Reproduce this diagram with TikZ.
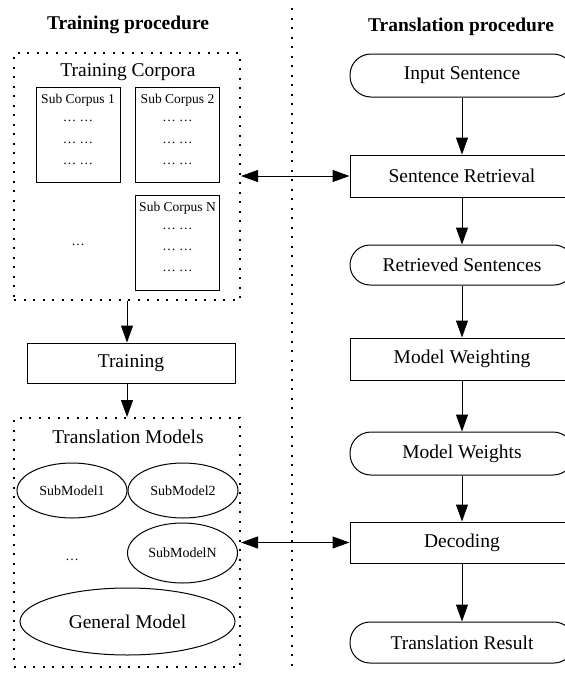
\documentclass[tikz,border=0pt]{standalone}
\usepackage{fontspec}
\setmainfont{Liberation Serif}
\usetikzlibrary{arrows.meta,shapes.geometric}
\tikzset{
  big/.style={font=\fontsize{19.5}{22}\selectfont},
  small/.style={font=\fontsize{13.5}{15}\selectfont},
  dotbox/.style={draw, line width=2pt, dash pattern=on 2pt off 7.5pt, inner sep=0pt},
  stadium/.style={draw, line width=1pt, rounded corners=21pt, minimum width=224pt, minimum height=43pt, inner sep=0pt, big},
  stepbox/.style={draw, line width=1pt, minimum width=224pt, minimum height=42pt, inner sep=0pt, big},
  subbox/.style={draw, line width=1pt, minimum width=84pt, minimum height=95pt, inner sep=0pt},
  ell/.style={draw, line width=1pt, ellipse, inner sep=0pt},
  arr/.style={line width=1pt, -{Triangle[length=17pt,width=12pt]}},
  arrb/.style={line width=1pt, {Triangle[length=17pt,width=12pt]}-{Triangle[length=17pt,width=12pt]}},
  txt/.style={inner sep=0pt}
}
\begin{document}
\begin{tikzpicture}[x=1pt,y=-1pt]
\useasboundingbox (0,0) rectangle (565,675);
\clip (0,0) rectangle (565,675);
\fill[white] (0,0) rectangle (565,675);

% titles
\node[txt,big,font=\fontsize{19.5}{22}\selectfont\bfseries] (t1) at (128,25) {Training procedure};
\node[txt,big,font=\fontsize{19.5}{22}\selectfont\bfseries] (t2) at (461,27) {Translation procedure};

% divider
\coordinate (d1) at (292,8);
\coordinate (d2) at (292,672);
\draw[line width=2pt, dash pattern=on 2pt off 7.5pt] (d1) -- (d2);

% training corpora
\node[dotbox, minimum width=226pt, minimum height=247pt] (corp) at (127,176.5) {};
\node[txt,big] (corpl) at (128,72) {Training Corpora};
\node[subbox] (sc1) at (78,134.5) {};
\node[subbox] (sc2) at (177.5,134.5) {};
\node[subbox] (scn) at (177.5,242.5) {};
\node[txt,small] (sc1l) at (78,100) {Sub Corpus 1};
\node[txt,small] (sc2l) at (177.5,100) {Sub Corpus 2};
\node[txt,small] (scnl) at (177.5,208) {Sub Corpus N};
\foreach \n/\x/\y in {a/78/121,b/78/143,c/78/164,d/177.5/121,e/177.5/143,f/177.5/164,g/177.5/229,h/177.5/250,i/177.5/271}{
  \node[txt,small] (dots\n) at (\x,\y) {\dots\ \dots};
}
\node[txt,small] (corpdots) at (78,245) {\dots};

% training
\node[stepbox, minimum width=208pt, minimum height=40pt] (train) at (131,363) {Training};

% translation models
\node[dotbox, minimum width=226pt, minimum height=249pt] (tm) at (127,542.5) {};
\node[txt,big] (tml) at (128,437) {Translation Models};
\node[ell, minimum width=110pt, minimum height=55pt, font=\fontsize{14}{16}\selectfont] (sm1) at (72,490.5) {SubModel1};
\node[ell, minimum width=110pt, minimum height=55pt, font=\fontsize{14}{16}\selectfont] (sm2) at (183,490.5) {SubModel2};
\node[ell, minimum width=110pt, minimum height=60pt, font=\fontsize{14}{16}\selectfont] (smn) at (182.5,553) {SubModelN};
\node[txt,small] (tmdots) at (72,560) {\dots};
\node[ell, minimum width=215pt, minimum height=67pt, big] (gen) at (127.5,621.5) {General Model};

% translation procedure
\node[stadium] (in) at (462,75.5) {Input Sentence};
\node[stepbox] (ret) at (462,176) {Sentence Retrieval};
\node[stadium, minimum height=40pt, rounded corners=20pt] (rs) at (462,265) {Retrieved Sentences};
\node[stepbox] (mw) at (462,359) {Model Weighting};
\node[stadium] (mws) at (462,453.5) {Model Weights};
\node[stepbox, minimum height=41pt] (dec) at (462,542.5) {Decoding};
\node[stadium, minimum height=41pt, rounded corners=20pt] (tr) at (462,642.5) {Translation Result};

% connectors
\draw[arr] (in.south) -- (ret.north);
\draw[arr] (ret.south) -- (rs.north);
\draw[arr] (rs.south) -- (mw.north);
\draw[arr] (mw.south) -- (mws.north);
\draw[arr] (mws.south) -- (dec.north);
\draw[arr] (dec.south) -- (tr.north);
\draw[arr] (corp.south) -- (corp.south |- train.north);
\draw[arr] (corp.south |- train.south) -- (tm.north);
\draw[arrb] (corp.east |- ret.west) -- (ret.west);
\draw[arrb] (tm.east |- dec.west) -- (dec.west);
\end{tikzpicture}
\end{document}
